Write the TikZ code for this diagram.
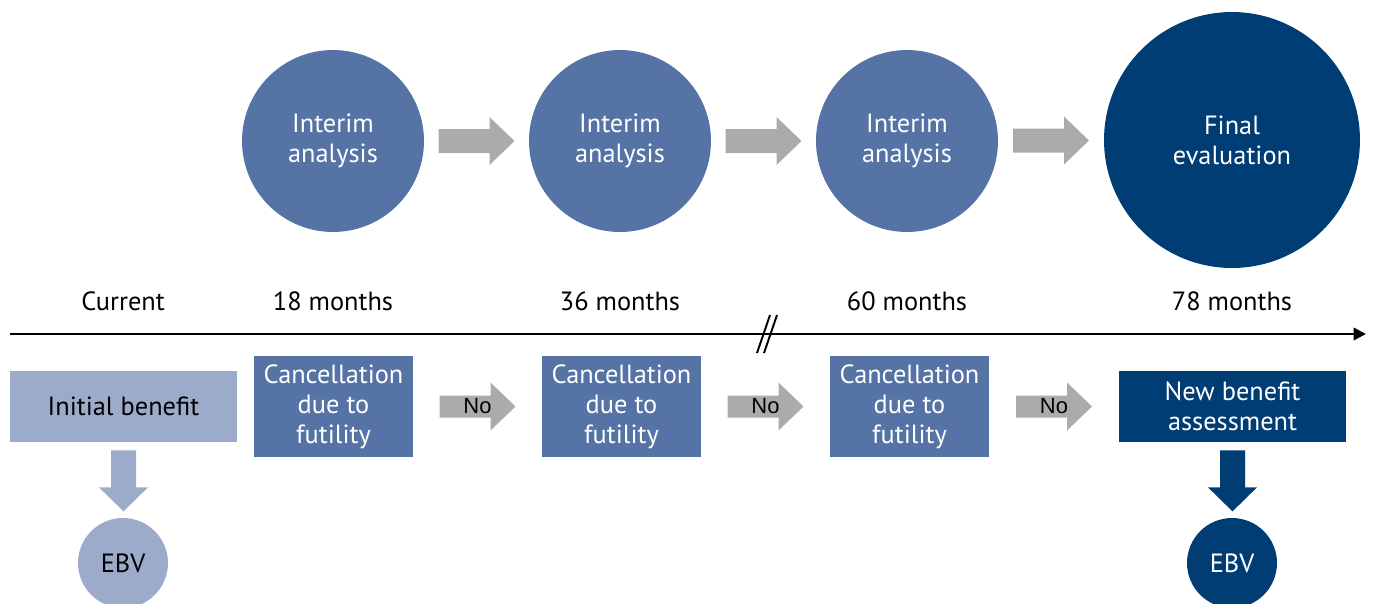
\documentclass[tikz,border=0pt]{standalone}
\usepackage{fontspec}
\setmainfont{PT Sans}
\newfontfamily\arialfont{Liberation Sans}
\usetikzlibrary{arrows.meta,calc}
\definecolor{midblue}{HTML}{5673A5}
\definecolor{navy}{HTML}{003D74}
\definecolor{paleblue}{HTML}{9DABCB}
\definecolor{arrowgray}{HTML}{ABABAB}
\newcommand\mainsize{\fontsize{15pt}{17pt}\selectfont}
\begin{document}
\begin{tikzpicture}[x=0.02cm,y=-0.02cm,
  every node/.style={font=\mainsize},
  stage/.style={circle,fill=midblue,text=white,minimum size=3.64cm,inner sep=0pt,align=center},
  finalstage/.style={circle,fill=navy,text=white,minimum size=5.12cm,inner sep=0pt,align=center},
  ebv/.style={circle,minimum size=1.8cm,inner sep=0pt},
  stopbox/.style={rectangle,fill=midblue,text=white,minimum width=3.18cm,minimum height=2.02cm,inner sep=0pt,align=center},
  widebox/.style={rectangle,minimum width=4.54cm,minimum height=1.42cm,inner sep=0pt,align=center},
  timelabel/.style={text=black,inner sep=0pt},
  nolabel/.style={font=\arialfont\fontsize{12.5pt}{14pt}\selectfont,text=black,inner sep=0pt},
  pics/bigright/.style={code={\fill (-38,-12) -- (13,-12) -- (13,-24) -- (38,0) -- (13,24) -- (13,12) -- (-38,12) -- cycle;}},
  pics/smallright/.style={code={\fill (-38,-11) -- (13,-11) -- (13,-24) -- (38,0) -- (13,24) -- (13,11) -- (-38,11) -- cycle;}},
  pics/downarrow/.style={code={\fill (-12.5,0) -- (12.5,0) -- (12.5,37) -- (24.5,37) -- (0,61) -- (-24.5,37) -- (-12.5,37) -- cycle;}}
]
\useasboundingbox (0,0) rectangle (1373,603);

% analysis stages
\node[stage] (i1) at (333,141) {Interim\\analysis};
\node[stage] (i2) at (620,141) {Interim\\analysis};
\node[stage] (i3) at (907,141) {Interim\\analysis};
\node[finalstage] (fin) at (1232,140) {Final\\evaluation};

\path[fill=arrowgray] ($(i1.east)!0.5!(i2.west)$) pic {bigright};
\path[fill=arrowgray] ($(i2.east)!0.5!(i3.west)$) pic {bigright};
\path[fill=arrowgray] ($(i3.east)!0.5!(fin.west)$) pic {bigright};

% time axis
\node[timelabel] (t0) at (123,301) {Current};
\node[timelabel] (t1) at (333,301) {18 months};
\node[timelabel] (t2) at (620,301) {36 months};
\node[timelabel] (t3) at (907,301) {60 months};
\node[timelabel] (t4) at (1232,301) {78 months};

\coordinate (axstart) at (10,334);
\coordinate (axend) at (1366,334);
\draw[line width=1.4pt,-{Triangle[length=7pt,width=7pt]}] (axstart) -- (axend);
\draw[line width=1.1pt] (757,353) -- (770,315);
\draw[line width=1.1pt] (764,353) -- (777,315);

% decisions
\node[widebox,fill=paleblue,text=black] (init) at (123.5,406.5) {Initial benefit};
\node[stopbox] (c1) at (333.5,406.5) {Cancellation\\due to\\futility};
\node[stopbox] (c2) at (621.5,406.5) {Cancellation\\due to\\futility};
\node[stopbox] (c3) at (909.5,406.5) {Cancellation\\due to\\futility};
\node[widebox,fill=navy,text=white] (newb) at (1232.5,406.5) {New benefit\\assessment};

\coordinate (n1) at ($(c1.east)!0.5!(c2.west)$);
\coordinate (n2) at ($(c2.east)!0.5!(c3.west)$);
\coordinate (n3) at ($(c3.east)!0.5!(newb.west)$);
\path[fill=arrowgray] (n1) pic {smallright};
\path[fill=arrowgray] (n2) pic {smallright};
\path[fill=arrowgray] (n3) pic {smallright};
\node[nolabel] at (n1) {No};
\node[nolabel] at (n2) {No};
\node[nolabel] at (n3) {No};

% outcomes
\node[ebv,fill=paleblue,text=black] (e1) at (123,563) {EBV};
\node[ebv,fill=navy,text=white] (e2) at (1232,563) {EBV};
\path[fill=paleblue] ($(init.south)+(0,8)$) pic {downarrow};
\path[fill=navy] ($(newb.south)+(0,8)$) pic {downarrow};
\end{tikzpicture}
\end{document}
